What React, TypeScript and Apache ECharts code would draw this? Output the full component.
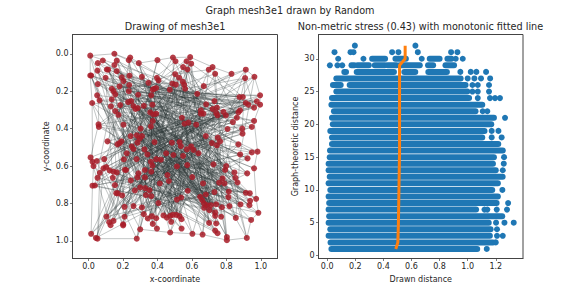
import React, { useEffect, useRef } from "react";
import * as echarts from "echarts";

const suptitle = "Graph mesh3e1 drawn by Random";
const leftTitle = "Drawing of mesh3e1";
const rightTitle = "Non-metric stress (0.43) with monotonic fitted line";
const leftTicks = [0, 0.2, 0.4, 0.6, 0.8, 1.0];
const rightXTicks = [0, 0.2, 0.4, 0.6, 0.8, 1.0, 1.2];
const rightYTicks = [0, 5, 10, 15, 20, 25, 30];

const nodes: number[][] = [
[.01,.01],[.15,0],[.054,.05],[.083,.036],[.242,.02],[.234,.034],[.164,.037],[.15,.06],[.292,.05],[.4,.034],
[.49,.02],[.505,.04],[.59,.018],[.569,.04],[.596,.053],[.549,.071],[.574,.084],[.72,.071],[.698,.085],[.735,.107],
[.83,.107],[.913,.085],[.909,.13],[.963,.123],[.052,.09],[.106,.084],[.114,.085],[.164,.093],[.01,.116],[.016,.116],
[.099,.128],[.193,.126],[.31,.123],[.397,.128],[.406,.142],[.348,.155],[.238,.117],[.203,.146],[.236,.167],[.18,.174],
[.054,.162],[.135,.187],[.145,.2],[.155,.217],[.503,.109],[.526,.128],[.547,.149],[.487,.16],[.507,.165],[.555,.165],
[.561,.187],[.381,.187],[.393,.183],[.373,.192],[.472,.192],[.669,.173],[.631,.214],[.234,.2],[.288,.219],[.364,.222],
[.05,.222],[.021,.263],[.064,.249],[.135,.244],[.13,.281],[.155,.306],[.174,.326],[.184,.274],[.23,.258],[.248,.253],
[.261,.279],[.273,.295],[.286,.29],[.321,.278],[.371,.272],[.358,.313],[.377,.324],[.393,.32],[.683,.27],[.731,.253],
[.72,.295],[.745,.288],[.652,.302],[.667,.32],[.652,.32],[.741,.317],[.749,.329],[.783,.31],[.797,.329],[.876,.231],
[.896,.231],[.913,.263],[.928,.272],[.996,.222],[.977,.254],[.996,.272],[.961,.288],[.88,.302],[.87,.313],[.861,.342],
[.838,.365],[.961,.359],[.948,.391],[.892,.4],[.894,.427],[.807,.402],[.058,.377],[.06,.391],[.203,.379],[.373,.359],
[.362,.388],[.302,.4],[.542,.342],[.557,.374],[.58,.368],[.625,.379],[.244,.44],[.11,.468],[.28,.436],[.31,.44],
[.296,.454],[.284,.475],[.383,.472],[.191,.468],[.168,.484],[.18,.477],[.251,.495],[.325,.511],[.484,.475],[.528,.472],
[.536,.493],[.681,.44],[.75,.448],[.764,.468],[.745,.489],[.716,.477],[.87,.484],[.596,.495],[.571,.511],[.261,.509],
[.222,.532],[.342,.538],[.451,.532],[.493,.541],[.549,.546],[.609,.514],[.638,.532],[.88,.538],[.948,.527],[.981,.523],
[.923,.559],[.012,.554],[.048,.573],[.023,.577],[.029,.6],[.091,.563],[.205,.564],[.279,.563],[.393,.563],[.42,.566],
[.362,.577],[.371,.598],[.513,.602],[.573,.595],[.725,.591],[.799,.6],[.793,.621],[.961,.612],[.066,.636],[.087,.612],
[.103,.605],[.122,.623],[.145,.63],[.164,.634],[.211,.62],[.218,.621],[.327,.621],[.364,.63],[.29,.639],[.284,.661],
[.327,.661],[.458,.648],[.052,.663],[.141,.663],[.246,.677],[.466,.68],[.414,.693],[.602,.659],[.847,.634],[.853,.663],
[.865,.688],[.921,.639],[.778,.666],[.758,.689],[.789,.693],[.665,.693],[.023,.705],[.037,.704],[.153,.702],[.269,.73],
[.3,.714],[.329,.718],[.354,.729],[.576,.732],[.814,.736],[.731,.739],[.681,.752],[.161,.745],[.17,.746],[.195,.757],
[.333,.755],[.364,.761],[.913,.743],[.936,.745],[.812,.766],[.538,.768],[.513,.779],[.648,.764],[.66,.782],[.938,.786],
[.934,.809],[.973,.775],[.406,.798],[.671,.8],[.687,.809],[.71,.809],[.671,.823],[.702,.836],[.741,.804],[.774,.82],
[.818,.814],[.882,.805],[.209,.818],[.261,.814],[.31,.821],[.209,.871],[.104,.87],[.321,.857],[.344,.88],[.368,.868],
[.393,.879],[.435,.864],[.455,.876],[.474,.866],[.489,.861],[.509,.861],[.528,.868],[.54,.884],[.48,.898],[.373,.909],
[.735,.848],[.735,.866],[.77,.871],[.7,.904],[.741,.907],[.855,.877],[.986,.85],[.944,.888],[.12,.9],[.145,.893],
[.128,.916],[.201,.911],[.201,.917],[.397,.934],[.3,.938],[.54,.934],[.735,.945],[.749,.959],[.015,.962],[.474,.955],
[.603,.962],[.662,.966],[.803,.979],[.803,.996],[.919,.984],[.043,.984],[.052,.988],[.28,.988],
];

const edges: number[][] = [
[0,1],[1,8],[8,9],[9,10],[10,12],[12,17],[17,20],[20,21],[21,23],[23,93],[93,95],[95,101],[101,149],[149,167],[167,221],[221,256],[256,257],[257,274],[274,273],
[273,271],[271,270],[270,269],[269,264],[264,277],[277,276],[276,275],[275,268],[268,196],[196,154],[154,151],[151,106],[106,61],[61,28],[28,0],
[0,40],[0,63],[0,33],[1,36],[1,57],[1,98],[2,54],[2,121],[2,37],[3,59],[3,74],[3,112],[4,66],[4,130],[4,48],[5,72],[5,186],[5,139],[6,88],[6,141],[6,53],[7,109],[7,64],[7,160],
[8,77],[8,145],[8,185],[9,111],[9,56],[9,209],[10,73],[10,162],[10,135],[11,35],[11,102],[11,176],[12,115],[12,181],[12,69],[13,78],[13,203],[13,52],[14,92],[14,47],[14,161],[15,120],[15,131],[15,233],
[16,85],[16,178],[16,43],[17,99],[17,140],[17,214],[18,44],[18,146],[18,238],[19,90],[19,133],[19,67],[20,55],[20,163],[20,110],[21,81],[21,195],[21,103],[22,96],[22,50],[22,192],[23,147],[23,82],[23,187],
[24,156],[24,68],[24,126],[25,75],[25,143],[25,39],[26,118],[26,222],[26,158],[27,84],[27,177],[27,128],[28,70],[28,123],[28,157],[29,113],[29,60],[29,199],[30,132],[30,183],[30,91],[31,165],[31,76],[31,216],
[32,100],[32,205],[32,173],[33,144],[33,210],[33,87],[34,182],[34,79],[34,137],[35,240],[35,129],[35,58],[36,105],[36,169],[36,227],[37,142],[37,262],[37,51],[38,117],[38,217],[38,89],[39,175],[39,247],[39,114],
[40,107],[40,150],[40,71],[41,190],[41,122],[41,46],[42,164],[42,83],[42,237],[43,134],[43,251],[43,184],[44,202],[44,119],[44,255],[45,127],[45,168],[45,97],[46,229],[46,104],[46,172],[47,152],[47,225],[47,65],
[48,211],[48,80],[48,124],[49,174],[49,242],[49,125],[50,138],[50,235],[50,86],[51,136],[51,207],[51,94],[52,218],[52,116],[52,155],[53,191],[53,248],[53,148],[54,166],[54,188],[54,200],[55,108],[55,232],[55,171],
[56,159],[56,198],[56,253],[57,193],[57,223],[57,101],[58,250],[58,149],[58,180],[59,204],[59,170],[59,219],[60,201],[60,62],[60,246],[61,213],[61,153],[61,241],[62,179],[62,245],[62,93],[63,244],[63,208],[63,206],
[64,212],[64,197],[64,243],[65,228],[65,239],[65,194],[66,226],[66,167],[66,224],[67,220],[67,249],[67,215],[68,231],[68,252],[68,189],[69,230],[69,254],[69,95],[70,234],[70,258],[70,221],[71,236],[71,266],[71,256],
[72,259],[72,267],[72,94],[73,260],[73,265],[73,257],[74,261],[74,268],[74,272],[75,263],[75,275],[75,21],[76,264],[76,276],[76,22],[77,270],[77,277],[77,23],[78,269],[78,196],[78,24],[79,271],[79,154],[79,25],
[80,273],[80,151],[80,26],[81,274],[81,106],[81,27],[82,28],[82,200],[82,152],[83,29],[83,199],[83,153],[84,30],[84,198],[84,155],[85,31],[85,197],[85,156],[86,32],[86,174],[86,182],[87,34],[87,175],[87,183],
[88,35],[88,168],[88,184],[89,38],[89,169],[89,185],[90,39],[90,170],[90,186],[91,40],[91,171],[91,181],[92,41],[92,172],[92,127],[93,42],[93,173],[93,116],[94,43],[94,123],[94,117],[95,57],[95,124],[95,118],
[96,58],[96,125],[96,119],[97,59],[97,126],[97,120],[98,60],[98,139],[98,121],[99,61],[99,140],[99,122],[100,62],[100,141],[100,128],[101,63],[101,142],[101,129],[102,64],[102,143],[102,130],[103,65],[103,144],[103,137],
[104,66],[104,145],[104,138],[105,67],[105,146],[105,206],[106,68],[106,147],[106,203],[107,69],[107,148],[107,205],[108,70],[108,149],[108,217],[109,71],[109,150],[109,218],[110,72],[110,167],[110,223],[111,73],[111,191],[111,224],
[112,74],[112,189],[112,225],[113,75],[113,190],[113,226],[114,76],[114,188],[114,227],[115,77],[115,204],[115,228],[116,192],[116,229],[117,193],[117,230],[118,194],[118,231],[119,195],[119,212],[120,187],[120,213],[121,164],[121,219],[122,165],[122,220],
[123,166],[123,221],[124,162],[124,232],[125,163],[125,233],[126,158],[126,234],[127,159],[127,235],[128,160],[128,236],[129,161],[129,237],[130,176],[130,238],[131,177],[131,239],[132,178],[132,240],[133,179],[133,241],
[134,180],[134,242],[135,200],[135,243],[136,201],[136,244],[137,202],[137,245],[138,210],[138,246],[139,211],[139,247],[140,222],[140,248],[141,215],[141,249],[142,216],[142,250],[143,251],[143,207],[144,252],[144,208],
[145,209],[145,253],[146,254],[146,199],[147,255],[147,198],[148,258],[148,197],[150,259],[150,196],[151,260],[152,261],[153,262],[154,263],[155,264],[156,265],[157,266],[158,267],[159,268],[160,269],[161,270],[162,271],
[163,272],[164,273],[165,274],[166,275],[168,276],[169,277],[170,222],[171,215],[172,216],[173,246],[174,247],[175,248],[176,250],[177,251],[178,252],[179,253],[180,254],[181,255],[182,256],[183,257],[184,219],[185,220],
[186,213],[187,212],[188,205],[189,206],[190,203],[191,217],[192,218],[193,223],[194,224],[195,225],[196,226],[197,227],[198,228],[199,229],[200,230],[201,231],[202,232],[203,233],[204,234],[205,235],[206,236],[207,237],
[208,120],[209,131],[210,44],[211,19],[212,73],[213,59],[214,111],[215,8],[216,32],[217,51],[218,75],[219,109],[220,122],[221,128],[222,82],[223,47],[224,34],[225,110],[226,76],[227,141],
[228,158],[229,142],[230,143],[231,177],[232,112],[233,113],[234,114],[235,115],[236,129],[237,130],[238,137],[239,144],[240,145],[241,162],[242,163],[243,181],[244,185],[245,186],[246,187],[247,127],
[248,119],[249,118],[250,121],[251,126],[252,139],[253,140],[254,157],[255,160],[256,161],[257,176],[258,180],[259,178],[260,179],[261,184],[262,200],[263,201],[264,202],[265,210],[266,211],[267,222],
[268,138],[269,135],[270,133],[271,134],[272,132],[273,131],[274,146],[275,156],[276,155],[277,159],
[74,135],[75,136],[76,147],[77,150],[109,164],[110,165],[111,166],[112,188],[113,189],[114,190],[115,191],[116,204],[117,205],[118,206],[119,214],[120,223],[121,224],[122,225],[127,226],[128,227],
[129,228],[130,229],[137,230],[138,231],[139,215],[140,216],[141,217],[142,218],[143,203],[144,192],[145,193],[157,194],[158,195],[159,164],[160,165],[161,166],[162,188],[163,189],[176,190],[177,191],
[178,212],[179,213],[180,214],[181,33],[185,34],[186,35],[187,51],[200,52],[201,53],[202,54],[210,58],[211,59],[215,73],[216,74],[217,75],[218,76],[222,77],[223,112],[224,113],[225,114],
[226,115],[227,131],[228,132],[229,133],[230,134],[231,135],[232,82],[233,83],[234,84],[235,85],[236,86],[237,87],[238,88],[239,78],[240,79],[241,80],[242,81],[243,56],[244,55],[245,50],
[246,49],[247,48],[248,47],[249,46],[250,45],[251,44],[252,16],[253,15],[254,14],[255,13],
];

const rowSpans: number[][] = [
[30,.32,.412],[30,.486,.56],[30,.73,.8],[30,.856,.884],
[29,.173,.192],[29,.216,.296],[29,.339,.41],[29,.43,.493],[29,.517,.659],[29,.718,.754],[29,.842,.903],
[28,.122,.134],[28,.21,.475],[28,.549,.627],[28,.72,.852],
[27,.065,.95],[26,.041,.096],[26,.16,.985],[25,.065,.997],[24,.034,1.01],[23,.03,1.104],[22,.048,1.056],
[21,.034,1.187],[20,.04,1.168],[19,.022,1.12],[18,.034,1.104],[17,.034,1.218],[16,.02,1.25],[15,.018,1.187],
[14,.01,1.18],[13,.01,1.2],[12,.018,1.249],[11,.01,1.215],[10,.022,1.175],[9,.01,1.215],[8,.014,1.206],
[7,.01,1.06],[6,.014,1.246],[5,.01,1.15],[4,.022,1.163],[3,.01,1.158],[2,.024,1.18],[1,.03,1.068],
];

const isolatedPoints: number[][] = [
[.197,32],[.628,32],
[.052,31],[.166,31],[.187,31],[.462,31],[.507,31],[.645,31],[.882,31],[.927,31],
[.078,30],[.258,30],[.673,30],[.915,30],[.965,30],
[.019,29],[.073,29],[.107,29],
[.948,28],[1.022,28],[1.062,28],[1.131,28],
[1.0,27],[1.048,27],[1.095,27],[1.16,27],
[1.034,26],[1.072,26],[1.152,26],
[1.034,25],[1.072,25],[1.152,25],
[1.072,24],[1.159,24],[1.195,24],[1.23,24],
[1.107,22],[1.14,22],[1.266,21],[1.171,19],[1.219,19],[1.171,18],[1.242,18],
[1.259,15],[1.257,14],[1.25,13],[1.247,10],[1.288,8],
[1.12,7],[1.14,7],[1.207,7],[1.28,7],
[1.202,5],[1.262,5],[1.328,5],[1.209,4],[1.209,3],[1.25,3],[1.2,2],[1.136,1],
];

const fittedLine: number[][] = [
[.488,1],[.503,2],[.507,5],[.51,9],[.515,16],[.515,29],[.555,30],[.555,32],
];

const font = "DejaVu Sans";
const ink = "#262626";
const frame = "#444444";

function axis(ticks: number[], min: number, max: number, gridIndex: number, name: string, gap: number, digits: number, inverse = false) {
  return {
    type: "value", gridIndex, min, max, inverse,
    name, nameLocation: "middle", nameGap: gap,
    nameTextStyle: { fontFamily: font, fontSize: 8, color: ink },
    axisLine: { show: true, onZero: false, lineStyle: { color: frame, width: 1 } },
    axisTick: { show: true, length: 2.5, customValues: ticks, lineStyle: { color: frame, width: 0.7 } },
    axisLabel: {
      show: true, customValues: ticks, margin: 4,
      fontFamily: font, fontSize: 8, color: ink,
      formatter: (v: number) => v.toFixed(digits),
    },
    splitLine: { show: false },
  };
}

function title(text: string, left: number, top: number) {
  return {
    text, left, top, textAlign: "center", padding: 0,
    textStyle: { fontFamily: font, fontSize: 9.7, fontWeight: "normal", color: ink },
  };
}

export default function App() {
  const ref = useRef<HTMLDivElement>(null);
  useEffect(() => {
    const chart = echarts.init(ref.current!, null, { renderer: "svg" });
    chart.setOption({
      animation: false,
      backgroundColor: "#ffffff",
      title: [title(suptitle, 290, 5), title(leftTitle, 175, 21), title(rightTitle, 420.5, 21)],
      grid: [
        { left: 72.5, top: 34.5, width: 205, height: 224, show: true, borderColor: frame, borderWidth: 1, backgroundColor: "transparent" },
        { left: 318.5, top: 34.5, width: 204.5, height: 224, show: true, borderColor: frame, borderWidth: 1, backgroundColor: "transparent" },
      ],
      xAxis: [
        axis(leftTicks, -0.093, 1.097, 0, "x-coordinate", 17, 1),
        axis(rightXTicks, -0.062, 1.394, 1, "Drawn distance", 17, 1),
      ],
      yAxis: [
        axis(leftTicks, -0.103, 1.094, 0, "y-coordinate", 22, 1, true),
        axis(rightYTicks, -0.457, 33.7, 1, "Graph-theoretic distance", 19, 0),
      ],
      series: [
        {
          type: "custom", xAxisIndex: 0, yAxisIndex: 0, z: 1, silent: true,
          data: edges.map(([a, b]) => [nodes[a][0], nodes[a][1], nodes[b][0], nodes[b][1]]),
          encode: { x: [0, 2], y: [1, 3] },
          renderItem: (_: any, api: any) => {
            const p = api.coord([api.value(0), api.value(1)]);
            const q = api.coord([api.value(2), api.value(3)]);
            return {
              type: "line",
              shape: { x1: p[0], y1: p[1], x2: q[0], y2: q[1] },
              style: { stroke: "#2f3c3c", opacity: 0.45, lineWidth: 0.65 },
            };
          },
        },
        {
          type: "scatter", xAxisIndex: 0, yAxisIndex: 0, z: 3, silent: true,
          data: nodes, symbolSize: 6,
          itemStyle: { color: "#a81c28", opacity: 0.85 },
        },
        {
          type: "custom", xAxisIndex: 1, yAxisIndex: 1, z: 1, silent: true,
          data: rowSpans,
          encode: { x: [1, 2], y: 0 },
          renderItem: (_: any, api: any) => {
            const p = api.coord([api.value(1), api.value(0)]);
            const q = api.coord([api.value(2), api.value(0)]);
            return {
              type: "line",
              shape: { x1: p[0], y1: p[1], x2: q[0], y2: q[1] },
              style: { stroke: "#1f77b4", lineWidth: 6, lineCap: "round" },
            };
          },
        },
        {
          type: "scatter", xAxisIndex: 1, yAxisIndex: 1, z: 2, silent: true,
          data: isolatedPoints, symbolSize: 6,
          itemStyle: { color: "#1f77b4", opacity: 1 },
        },
        {
          type: "line", xAxisIndex: 1, yAxisIndex: 1, z: 4, silent: true,
          data: fittedLine, showSymbol: false, symbol: "none",
          lineStyle: { color: "#ff7f0e", width: 3 },
        },
      ],
    });
    return () => chart.dispose();
  }, []);
  return <div ref={ref} style={{ position: "absolute", left: 0, top: 0, width: 581, height: 291 }} />;
}
